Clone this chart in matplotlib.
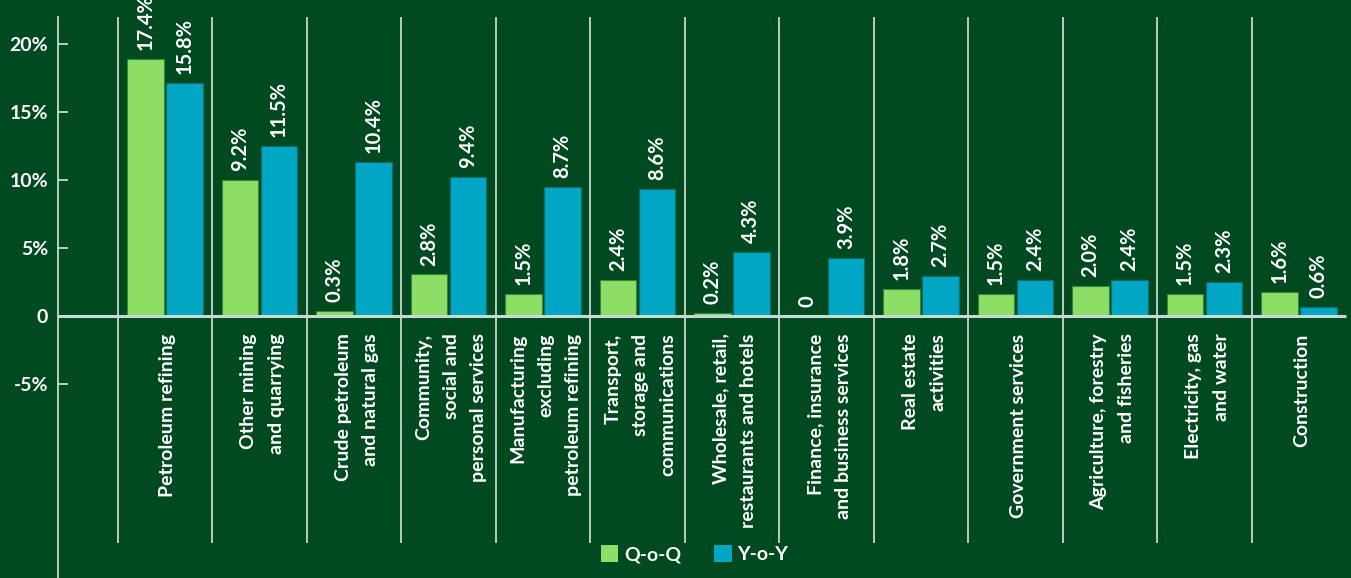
import matplotlib
matplotlib.use("Agg")
import matplotlib.pyplot as plt
from matplotlib.patches import Patch
import numpy as np

plt.rcParams['font.family'] = ['Lato', 'DejaVu Sans']

categories = ["Petroleum refining", "Other mining\nand quarrying",
              "Crude petroleum\nand natural gas",
              "Community,\nsocial and\npersonal services",
              "Manufacturing\nexcluding\npetroleum refining",
              "Transport,\nstorage and\ncommunications",
              "Wholesale, retail,\nrestaurants and hotels",
              "Finance, insurance\nand business services",
              "Real estate\nactivities", "Government services",
              "Agriculture, forestry\nand fisheries",
              "Electricity, gas\nand water", "Construction"]
qoq = [17.4, 9.2, 0.3, 2.8, 1.5, 2.4, 0.2, 0, 1.8, 1.5, 2.0, 1.5, 1.6]
yoy = [15.8, 11.5, 10.4, 9.4, 8.7, 8.6, 4.3, 3.9, 2.7, 2.4, 2.4, 2.3, 0.6]
tick_values = [-5, 0, 5, 10, 15, 20]
tick_labels = ["-5%", "0", "5%", "10%", "15%", "20%"]
series_names = ["Q-o-Q", "Y-o-Y"]

BG = '#014a21'
C_Q = '#8ede66'
C_Y = '#00a6c3'
LINE = '#c9d6cc'
AXIS_SCALE = 1.085  # reference axis ticks are spaced relative to bars by this factor

fig = plt.figure(figsize=(13.51, 5.78), dpi=100, facecolor=BG)
ax = fig.add_axes([0, 0, 1, 1])
ax.set_facecolor(BG)

x = np.arange(len(categories))
w = 0.385
ax.bar(x - 0.205, qoq, w, color=C_Q, edgecolor='#2f8a3a', linewidth=0.8, zorder=3)
ax.bar(x + 0.205, yoy, w, color=C_Y, edgecolor='#0a6f6a', linewidth=0.8, zorder=3)

def fmt(v):
    return "0" if v == 0 else f"{v:.1f}%"

for xi, v in zip(x - 0.205, qoq):
    ax.text(xi, v + 0.6, fmt(v), rotation=90, ha='center', va='bottom',
            color='white', fontsize=14.5, fontweight='bold', zorder=4)
for xi, v in zip(x + 0.205, yoy):
    ax.text(xi, v + 0.6, fmt(v), rotation=90, ha='center', va='bottom',
            color='white', fontsize=14.5, fontweight='bold', zorder=4)

for xi, lab in zip(x, categories):
    ax.text(xi + 0.03, -1.2, lab, rotation=90, ha='center', va='top',
            multialignment='right', color='white', fontsize=14,
            fontweight='bold', linespacing=1.75)

x_left = -1.132
y_top = 20.24
y_sep_bottom = -15.4
ax.set_xlim(-1.746, 12.55)
ax.set_ylim(-17.77, 21.39)

ax.vlines(x[:-1] + 0.5, y_sep_bottom, y_top, color=LINE, linewidth=1.3, zorder=2)
ax.vlines([x[0] - 0.5], y_sep_bottom, y_top, color=LINE, linewidth=1.3, zorder=2)
ax.hlines(0, x_left, x[-1] + 0.5, color='#c3dbd3', linewidth=2.2, zorder=5)

for s in ['top', 'right', 'bottom']:
    ax.spines[s].set_visible(False)
ax.spines['left'].set_position(('data', x_left))
ax.spines['left'].set_color(LINE)
ax.spines['left'].set_linewidth(1.3)
ax.spines['left'].set_bounds(-17.77, y_top)
ax.set_xticks([])
ax.set_yticks(np.array(tick_values) / AXIS_SCALE)
ax.set_yticklabels(tick_labels)
ax.tick_params(axis='y', direction='in', length=7.5, width=1.3, color=LINE,
               pad=7, labelcolor='white', labelsize=14)
for t in ax.get_yticklabels():
    t.set_fontweight('bold')

handles = [Patch(facecolor=C_Q, edgecolor='none'), Patch(facecolor=C_Y, edgecolor='none')]
leg = fig.legend(handles, series_names, loc='center', bbox_to_anchor=(0.514, 0.041),
                 ncol=2, frameon=False, fontsize=14, handlelength=0.9, handleheight=0.9,
                 handletextpad=0.3, columnspacing=1.7)
for t in leg.get_texts():
    t.set_color('white')
    t.set_fontweight('bold')

fig.savefig('out.png', dpi=100, facecolor=BG)
